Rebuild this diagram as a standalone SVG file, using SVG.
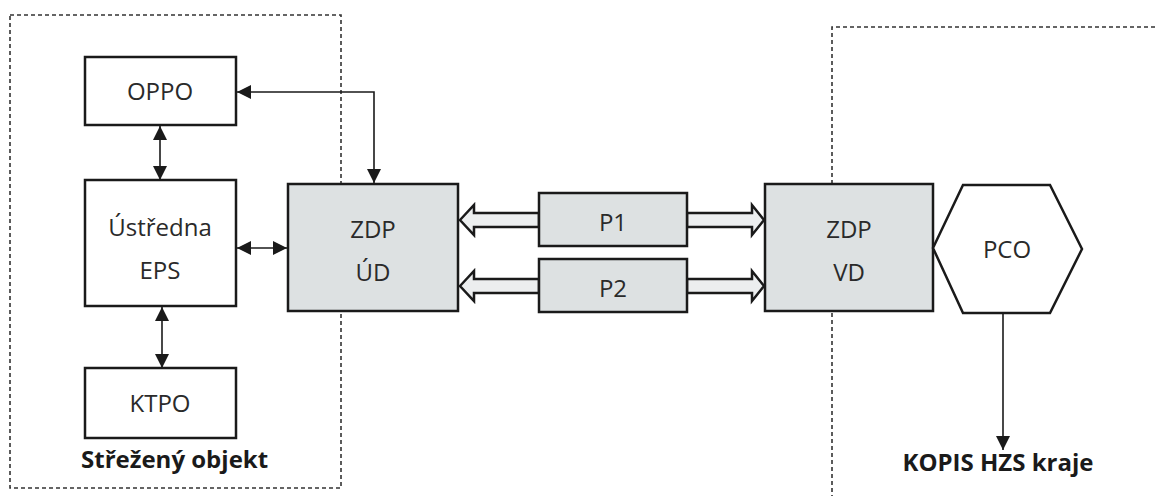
<svg xmlns="http://www.w3.org/2000/svg" width="1155" height="496" viewBox="0 0 1155 496">
<style>
.box{fill:#ffffff;stroke:#1a1a1a;stroke-width:2.5}
.gbox{fill:#dde1e2;stroke:#1a1a1a;stroke-width:2.5}
.t{font-family:"Open Sans","Liberation Sans",sans-serif;font-size:24px;fill:#2a2a2a;text-anchor:middle}
.b{font-family:"Open Sans","Liberation Sans",sans-serif;font-size:24px;font-weight:bold;fill:#1a1a1a}
.dash{fill:none;stroke:#333;stroke-width:1.6;stroke-dasharray:4 3}
.ln{fill:none;stroke:#1a1a1a;stroke-width:1.6}
.hollow{fill:#eceeef;stroke:#1a1a1a;stroke-width:2.5;stroke-linejoin:miter}
</style>
<defs>
<marker id="ah2" viewBox="0 0 14 14" refX="14" refY="7" markerWidth="14" markerHeight="14" markerUnits="userSpaceOnUse" orient="auto-start-reverse">
<path d="M0,0 L14,7 L0,14 z" fill="#1a1a1a"/>
</marker>
</defs>
<rect width="1155" height="496" fill="#ffffff"/>
<g id="zones">
<rect class="dash" x="10" y="15" width="331" height="473"/>
<path class="dash" d="M1155,27 L832,27 L832,496"/>
<text class="b" x="81" y="468">Střežený objekt</text>
<text class="b" x="998" y="471" text-anchor="middle">KOPIS HZS kraje</text>
</g>
<g id="connectors">
<line class="ln" x1="160" y1="126" x2="160" y2="180" marker-start="url(#ah2)" marker-end="url(#ah2)"/>
<line class="ln" x1="162" y1="307" x2="162" y2="368" marker-start="url(#ah2)" marker-end="url(#ah2)"/>
<line class="ln" x1="237" y1="248" x2="287" y2="248" marker-start="url(#ah2)" marker-end="url(#ah2)"/>
<path class="ln" d="M237,92 L374,92 L374,183" marker-start="url(#ah2)" marker-end="url(#ah2)"/>
<line class="ln" x1="1003" y1="313" x2="1003" y2="450" marker-end="url(#ah2)"/>
<polygon class="hollow" points="460,220 474,205 474,213 539,213 539,227 474,227 474,235"/>
<polygon class="hollow" points="687,213 752,213 752,205 764,220 752,235 752,227 687,227"/>
<polygon class="hollow" points="460,286 474,271 474,279 539,279 539,293 474,293 474,301"/>
<polygon class="hollow" points="687,279 752,279 752,271 764,286 752,301 752,293 687,293"/>
</g>
<g id="OPPO"><rect class="box" x="85" y="57" width="151" height="68"/><text class="t" x="160" y="100">OPPO</text></g>
<g id="EPS"><rect class="box" x="85" y="180" width="151" height="126"/><text class="t" x="160" y="236">Ústředna</text><text class="t" x="160" y="279">EPS</text></g>
<g id="KTPO"><rect class="box" x="85" y="368" width="151" height="70"/><text class="t" x="160" y="412">KTPO</text></g>
<g id="ZDP_UD"><rect class="gbox" x="288" y="184" width="170" height="127"/><text class="t" x="373" y="238">ZDP</text><text class="t" x="373" y="281">ÚD</text></g>
<g id="P1"><rect class="gbox" x="539" y="193" width="148" height="53"/><text class="t" x="613" y="231">P1</text></g>
<g id="P2"><rect class="gbox" x="539" y="259" width="148" height="53"/><text class="t" x="613" y="297">P2</text></g>
<g id="ZDP_VD"><rect class="gbox" x="765" y="184" width="168" height="127"/><text class="t" x="849" y="238">ZDP</text><text class="t" x="849" y="281">VD</text></g>
<g id="PCO"><polygon class="box" points="933,248 963,185 1050,185 1082,249 1050,313 963,313"/><text class="t" x="1007" y="258">PCO</text></g>
</svg>
